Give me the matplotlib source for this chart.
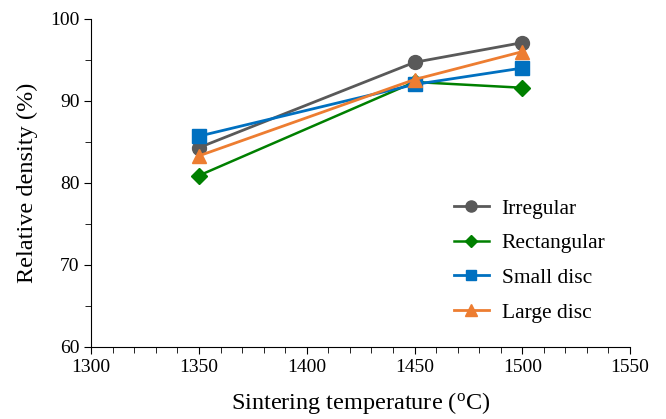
import matplotlib
matplotlib.use("Agg")
import matplotlib.pyplot as plt
from matplotlib.ticker import MultipleLocator

plt.rcParams['font.family'] = ['Liberation Serif', 'DejaVu Serif']

temps = [1350, 1450, 1500]
irregular = [84.3, 94.7, 97.1]
rectangular = [80.9, 92.3, 91.6]
small_disc = [85.7, 92.0, 94.0]
large_disc = [83.3, 92.6, 96.0]

fig = plt.figure(figsize=(6.66, 4.19), dpi=100)
ax = fig.add_axes([0.137, 0.172, 0.809, 0.783])

ax.plot(temps, irregular, color='#595959', marker='o', ms=10, lw=2, label='Irregular')
ax.plot(temps, rectangular, color='#008000', marker='D', ms=8, lw=1.8, label='Rectangular')
ax.plot(temps, small_disc, color='#0070C0', marker='s', ms=9.5, lw=2, label='Small disc')
ax.plot(temps, large_disc, color='#ED7D31', marker='^', ms=10, lw=2, label='Large disc')

ax.set_xlim(1300, 1550)
ax.set_ylim(60, 100)
ax.xaxis.set_major_locator(MultipleLocator(50))
ax.xaxis.set_minor_locator(MultipleLocator(10))
ax.yaxis.set_major_locator(MultipleLocator(10))
ax.yaxis.set_minor_locator(MultipleLocator(5))
ax.tick_params(which='both', direction='out', labelsize=14)
ax.tick_params(which='major', length=5)
ax.tick_params(which='minor', length=4)
ax.spines['top'].set_visible(False)
ax.spines['right'].set_visible(False)

ax.set_xlabel('Sintering temperature ($\\mathregular{^o}$C)', fontsize=17.5, labelpad=10)
ax.set_ylabel('Relative density (%)', fontsize=17.5, labelpad=9)

leg = ax.legend(loc='lower right', bbox_to_anchor=(0.99, 0.015), frameon=False, fontsize=15.5,
                handlelength=1.6, handletextpad=0.6, labelspacing=0.68, markerscale=0.8)

fig.savefig('out.png', dpi=100)
